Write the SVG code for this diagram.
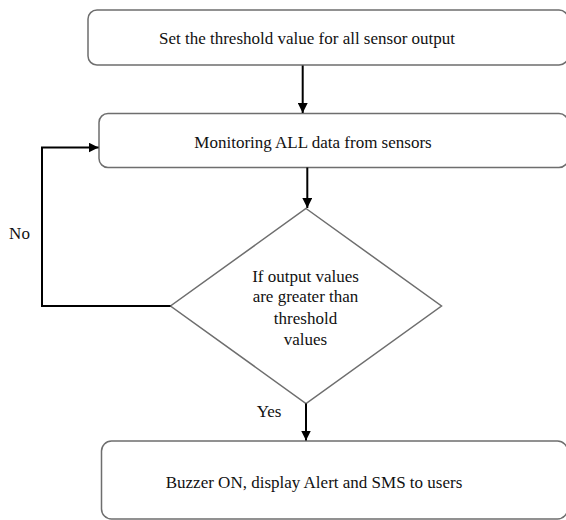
<svg xmlns="http://www.w3.org/2000/svg" width="566" height="520" viewBox="0 0 566 520">
<style>
.box{fill:#fff;stroke:#6e6e6e;stroke-width:1.5}
.t{font-family:"Liberation Serif","Times New Roman",serif;font-size:17px;fill:#111;text-anchor:middle}
.c{fill:none;stroke:#000;stroke-width:2}
</style>
<defs>
<marker id="ah" viewBox="0 0 10 10" refX="10" refY="5" markerWidth="5" markerHeight="5" orient="auto" markerUnits="strokeWidth">
<path d="M0,0 L10,5 L0,10 z" fill="#000"/>
</marker>
</defs>
<rect width="566" height="520" fill="#fff"/>
<g id="n1">
<rect class="box" x="88" y="10" width="480" height="55" rx="9"/>
<text class="t" x="307" y="44" font-family="Liberation Serif, serif">Set the threshold value for all sensor output</text>
</g>
<g id="n2">
<rect class="box" x="99" y="113.5" width="469" height="54" rx="9"/>
<text class="t" x="313" y="148" font-family="Liberation Serif, serif">Monitoring ALL data from sensors</text>
</g>
<g id="n3">
<polygon class="box" points="306,208.5 441.5,306 306,403.5 170.5,306"/>
<text class="t" x="305.5" y="282" font-family="Liberation Serif, serif">If output values</text>
<text class="t" x="305.5" y="302" font-family="Liberation Serif, serif">are greater than</text>
<text class="t" x="305.5" y="324" font-family="Liberation Serif, serif">threshold</text>
<text class="t" x="305.5" y="345" font-family="Liberation Serif, serif">values</text>
</g>
<g id="n4">
<rect class="box" x="101.5" y="441" width="466" height="78" rx="10"/>
<text class="t" x="314" y="488" font-family="Liberation Serif, serif">Buzzer ON, display Alert and SMS to users</text>
</g>
<g id="connectors">
<line class="c" x1="302.7" y1="65.5" x2="302.7" y2="113" marker-end="url(#ah)"/>
<line class="c" x1="307.3" y1="167.5" x2="307.3" y2="208" marker-end="url(#ah)"/>
<polyline class="c" points="170.5,306 42,306 42,147.5 98.5,147.5" marker-end="url(#ah)"/>
<line class="c" x1="306" y1="403.5" x2="306" y2="440.5" marker-end="url(#ah)"/>
<text class="t" x="19.5" y="238.5" font-family="Liberation Serif, serif">No</text>
<text class="t" x="269" y="416.5" font-family="Liberation Serif, serif">Yes</text>
</g>
</svg>
